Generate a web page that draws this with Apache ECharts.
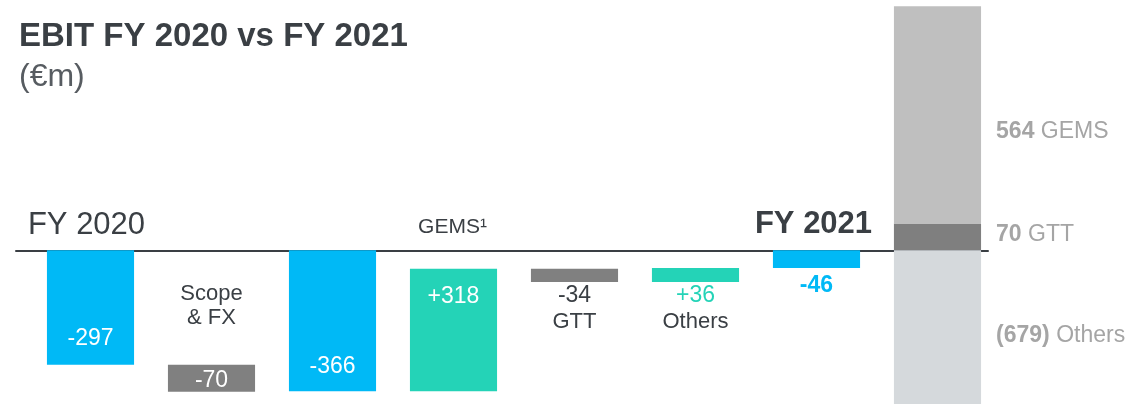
<!DOCTYPE html>
<html>
<head>
<meta charset="utf-8">
<script src="https://cdn.jsdelivr.net/npm/echarts@6/dist/echarts.min.js"></script>
<style>
  html, body { margin: 0; padding: 0; background: #ffffff; }
  #chart { width: 1130px; height: 404px; }
</style>
</head>
<body>
<div id="chart"></div>
<script>
// EBIT bridge FY 2020 -> FY 2021, in €m
const stepNames = ['FY 2020', 'Scope\n& FX', '', 'GEMS¹', 'GTT', 'Others', 'FY 2021'];
const stepValues = [-297, -70, -366, 318, -34, 36, -46];
const stepIsTotal = [true, false, true, false, false, false, true];

// FY 2021 EBIT split by segment
const splitNames = ['GTT', 'GEMS', 'Others'];
const splitValues = [70, 564, -679];

// ---- styling ----
const BLUE = '#00B9F6';
const TEAL = '#24D3B7';
const GRAY = '#808080';
const INK = '#3A3F44';
const MUTED = '#A5A5A5';
const FONT = '"Liberation Sans", Arial, Helvetica, sans-serif';

const barColors = [BLUE, GRAY, BLUE, TEAL, GRAY, TEAL, BLUE];
const splitColors = ['#7F7F7F', '#BFBFBF', '#D5D9DC'];

// where each value label sits, relative to its bar
const valueLayout = [
  { anchor: 'bottom', dy: -26, color: '#ffffff' },
  { anchor: 'mid', dy: 2, color: '#ffffff' },
  { anchor: 'bottom', dy: -25, color: '#ffffff' },
  { anchor: 'top', dy: 28, color: '#ffffff' },
  { anchor: 'bottom', dy: 14, color: INK },
  { anchor: 'bottom', dy: 14, color: TEAL },
  { anchor: 'bottom', dy: 18, color: BLUE, weight: 'bold' }
];
// where each step name sits
const nameLayout = [
  { anchor: 'zero', dy: -25, dx: -4, size: 31 },
  { anchor: 'top', dy: -71, size: 22 },
  null,
  { anchor: 'zero', dy: -23, dx: -1, size: 21 },
  { anchor: 'bottom', dy: 40, size: 22 },
  { anchor: 'bottom', dy: 40, size: 22 },
  { anchor: 'zero', dy: -26, dx: -3, size: 31, weight: 'bold' }
];
const splitLabelLayout = [
  { anchor: 'mid', dy: -2 },
  { anchor: 'mid', dy: 17 },
  { anchor: 'top', dy: 85 }
];

// ---- floating bar ranges for the bridge ----
let running = 0;
const stepData = stepValues.map((v, i) => {
  let lo, hi;
  if (stepIsTotal[i]) { lo = 0; hi = v; }
  else { lo = running; hi = running + v; }
  running = hi;
  return [i, lo, hi, i];
});

// stacked segments of the closing bar
let posBase = 0, negBase = 0;
const splitX = stepValues.length;
const splitData = splitValues.map((v, k) => {
  let lo, hi;
  if (v >= 0) { lo = posBase; hi = posBase + v; posBase = hi; }
  else { lo = negBase; hi = negBase + v; negBase = hi; }
  return [splitX, lo, hi, k];
});

function txt(text, x, y, fill, size, weight, align) {
  return {
    type: 'text',
    style: {
      text: text, x: x, y: y, fill: fill,
      font: (weight || 'normal') + ' ' + size + 'px ' + FONT,
      align: align || 'center', verticalAlign: 'middle'
    }
  };
}

function anchorY(anchor, top, bottom, zeroY) {
  if (anchor === 'top') return top;
  if (anchor === 'bottom') return bottom;
  if (anchor === 'zero') return zeroY;
  return (top + bottom) / 2;
}

function renderStep(params, api) {
  const i = api.value(3);
  const x = api.value(0);
  const p1 = api.coord([x, api.value(1)]);
  const p2 = api.coord([x, api.value(2)]);
  const zeroY = api.coord([x, 0])[1];
  const w = api.size([1, 0])[0] * 0.72;
  const cx = p1[0];
  const top = Math.min(p1[1], p2[1]);
  const bottom = Math.max(p1[1], p2[1]);
  const v = stepValues[i];
  const children = [{
    type: 'rect',
    shape: { x: cx - w / 2, y: top, width: w, height: bottom - top },
    style: { fill: barColors[i] }
  }];
  const vl = valueLayout[i];
  const label = stepIsTotal[i] ? String(v) : (v > 0 ? '+' : '') + v;
  children.push(txt(label, cx, anchorY(vl.anchor, top, bottom, zeroY) + vl.dy, vl.color, 23, vl.weight));
  const nl = nameLayout[i];
  if (nl && stepNames[i]) {
    const y0 = anchorY(nl.anchor, top, bottom, zeroY) + nl.dy;
    stepNames[i].split('\n').forEach((line, k) => {
      children.push(txt(line, cx + (nl.dx || 0), y0 + k * 24, INK, nl.size, nl.weight));
    });
  }
  return { type: 'group', children: children };
}

function renderSplit(params, api) {
  const k = api.value(3);
  const x = api.value(0);
  const p1 = api.coord([x, api.value(1)]);
  const p2 = api.coord([x, api.value(2)]);
  const w = api.size([1, 0])[0] * 0.72;
  const cx = p1[0];
  const top = Math.min(p1[1], p2[1]);
  const bottom = Math.max(p1[1], p2[1]);
  const v = splitValues[k];
  const num = v < 0 ? '(' + Math.abs(v) + ')' : String(v);
  const ll = splitLabelLayout[k];
  return {
    type: 'group',
    children: [
      {
        type: 'rect',
        shape: { x: cx - w / 2, y: top, width: w, height: bottom - top },
        style: { fill: splitColors[k] }
      },
      {
        type: 'text',
        style: {
          text: '{b|' + num + '} ' + splitNames[k],
          x: cx + w / 2 + 15,
          y: anchorY(ll.anchor, top, bottom, 0) + ll.dy,
          fill: MUTED,
          font: 'normal 23px ' + FONT,
          align: 'left', verticalAlign: 'middle',
          rich: { b: { fontWeight: 'bold', fontSize: 23, fontFamily: FONT, fill: MUTED } }
        }
      }
    ]
  };
}

const chart = echarts.init(document.getElementById('chart'), null, { renderer: 'canvas' });
chart.setOption({
  animation: false,
  backgroundColor: '#ffffff',
  textStyle: { fontFamily: FONT },
  title: {
    text: 'EBIT FY 2020 vs FY 2021',
    subtext: '(€m)',
    left: 14,
    top: 12,
    itemGap: 2,
    textStyle: { fontSize: 33, fontWeight: 'bold', color: INK, fontFamily: FONT, lineHeight: 40 },
    subtextStyle: { fontSize: 32, color: '#575C61', fontFamily: FONT, lineHeight: 36 }
  },
  grid: { left: 16, top: 0, width: 972, height: 520, outerBoundsMode: 'none', containLabel: false },
  xAxis: {
    type: 'value',
    min: -0.6157,
    max: 7.4174,
    axisLine: { show: true, onZero: true, lineStyle: { color: INK, width: 2 } },
    axisTick: { show: false },
    axisLabel: { show: false },
    splitLine: { show: false }
  },
  yAxis: {
    type: 'value',
    min: -700,
    max: 650,
    show: false,
    splitLine: { show: false }
  },
  series: [
    {
      type: 'custom',
      name: 'bridge',
      renderItem: renderStep,
      encode: { x: 0, y: [1, 2] },
      data: stepData,
      clip: false,
      z: 2
    },
    {
      type: 'custom',
      name: 'split',
      renderItem: renderSplit,
      encode: { x: 0, y: [1, 2] },
      data: splitData,
      clip: false,
      z: 1
    }
  ]
});
</script>
</body>
</html>
